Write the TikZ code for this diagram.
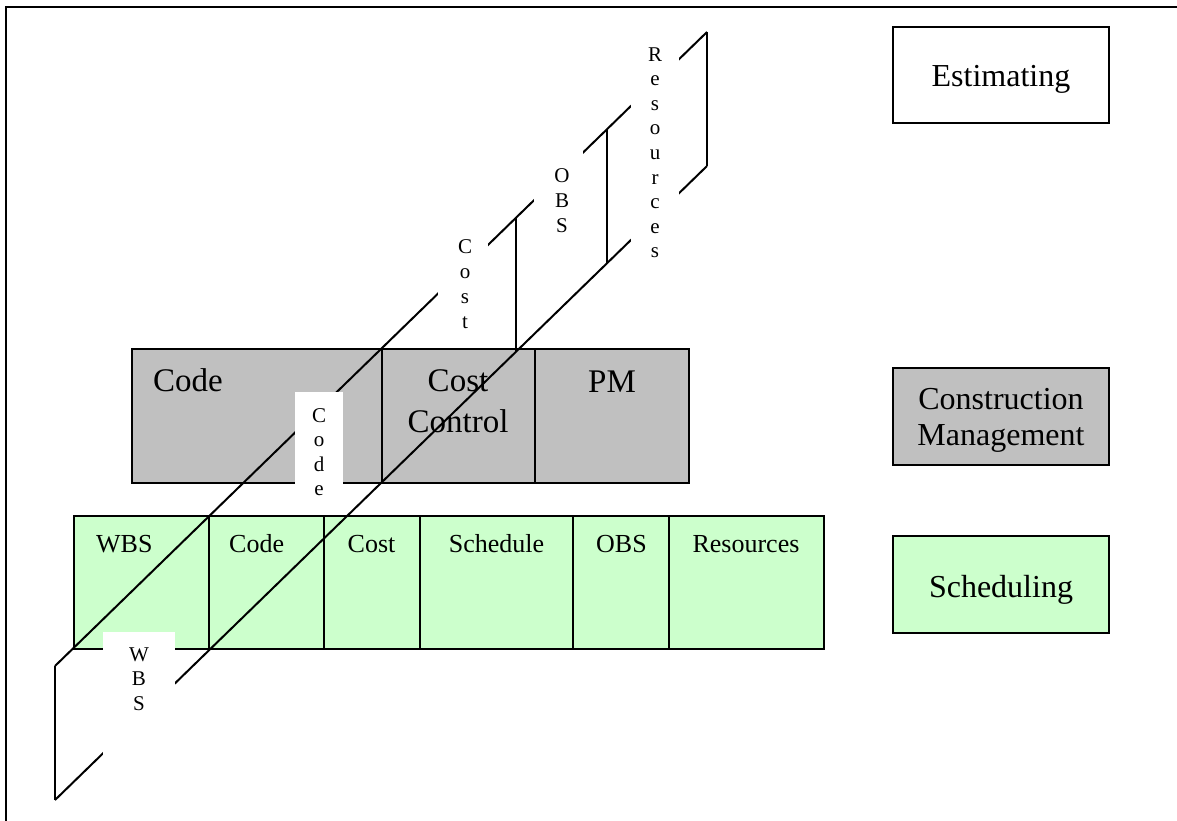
\documentclass[tikz,border=0pt]{standalone}
\usepackage{fontspec}
\setmainfont{Liberation Serif}
\usetikzlibrary{calc}
\definecolor{cmgray}{HTML}{C0C0C0}
\definecolor{schgreen}{HTML}{CCFFCC}
\begin{document}
\begin{tikzpicture}[x=1pt,y=-1pt,
  cell/.style={draw=black, line width=2pt, inner sep=0pt, outer sep=0pt, anchor=north west},
  cmcell/.style={cell, fill=cmgray, minimum height=134pt},
  schcell/.style={cell, fill=schgreen, minimum height=133pt},
  keybox/.style={cell, minimum width=216pt},
  plane/.style={line width=2pt},
  gap/.style={fill=white, inner sep=0pt, outer sep=0pt, anchor=north west},
  vletter/.style={anchor=base, inner sep=0pt, font=\fontsize{21}{24}\selectfont},
  cmtext/.style={anchor=base, inner sep=0pt, font=\fontsize{33}{38}\selectfont},
  schtext/.style={anchor=base, inner sep=0pt, font=\fontsize{26}{30}\selectfont},
  keytext/.style={anchor=base, inner sep=0pt, font=\fontsize{32}{36}\selectfont}]
\useasboundingbox (0,0) rectangle (1177,820);

% page frame
\draw[line width=2pt] (6,822) -- (6,7) -- (1179,7);

% construction management row
\node[cmcell, minimum width=250pt] (cmCode) at (132,349) {};
\node[cmcell, minimum width=153pt] (cmCost) at (382,349) {};
\node[cmcell, minimum width=154pt] (cmPM) at (535,349) {};
\node[cmtext, anchor=base west] (cmCodeT) at (153,391) {Code};
\node[cmtext] (cmCostT1) at (458,391) {Cost};
\node[cmtext] (cmCostT2) at (458,432) {Control};
\node[cmtext] (cmPMT) at (612,392) {PM};

% scheduling row
\node[schcell, minimum width=135pt] (sWBS) at (74,516) {};
\node[schcell, minimum width=115pt] (sCode) at (209,516) {};
\node[schcell, minimum width=96pt] (sCost) at (324,516) {};
\node[schcell, minimum width=153pt] (sSched) at (420,516) {};
\node[schcell, minimum width=96pt] (sOBS) at (573,516) {};
\node[schcell, minimum width=155pt] (sRes) at (669,516) {};
\node[schtext, anchor=base west] (sWBST) at (96,552) {WBS};
\node[schtext, anchor=base west] (sCodeT) at (229,552) {Code};
\node[schtext] (sCostT) at (371.5,552) {Cost};
\node[schtext] (sSchedT) at (496.5,552) {Schedule};
\node[schtext] (sOBST) at (621.5,552) {OBS};
\node[schtext] (sResT) at (746,552) {Resources};

% key boxes
\node[keybox, minimum height=96pt] (kEst) at (893,27) {};
\node[keybox, fill=cmgray, minimum height=97pt] (kCM) at (893,368) {};
\node[keybox, fill=schgreen, minimum height=97pt] (kSch) at (893,536) {};
\node[keytext] (kEstT) at (1001,86) {Estimating};
\node[keytext] (kCMT1) at (1001,409) {Construction};
\node[keytext] (kCMT2) at (1001,445) {Management};
\node[keytext] (kSchT) at (1001,597) {Scheduling};

% planes running back from WBS to Resources
\coordinate (wbsTop) at (55,666);
\coordinate (wbsBot) at (55,800);
\coordinate (resTop) at (707,32);
\coordinate (resBot) at (707,166);
\coordinate (costTop) at ($(wbsTop)!0.7071!(resTop)$);
\coordinate (costBot) at ($(wbsBot)!0.7071!(resBot)$);
\coordinate (obsTop) at ($(wbsTop)!0.8466!(resTop)$);
\coordinate (obsBot) at ($(wbsBot)!0.8466!(resBot)$);
\draw[plane] (wbsTop) -- (resTop);
\draw[plane] (wbsBot) -- (resBot);
\draw[plane] (wbsTop) -- (wbsBot);
\draw[plane] (resTop) -- (resBot);
\draw[plane] (costTop) -- (costBot);
\draw[plane] (obsTop) -- (obsBot);

% plane labels on white panels
\node[gap, minimum width=72pt, minimum height=125pt] (wbsPanel) at (103,632) {};
\node[gap, minimum width=48pt, minimum height=118pt] (codePanel) at (295,392) {};
\node[gap, minimum width=50pt, minimum height=114pt] (costPanel) at (438,226) {};
\node[gap, minimum width=49pt, minimum height=95pt] (obsPanel) at (534,150) {};
\node[gap, minimum width=48pt, minimum height=233pt] (resPanel) at (631,35) {};

\foreach \ch [count=\i from 0] in {W,B,S}
  \node[vletter] (wbsL\i) at (139,{661+24.6*\i}) {\ch};
\foreach \ch [count=\i from 0] in {C,o,d,e}
  \node[vletter] (codeL\i) at (319,{422+24.6*\i}) {\ch};
\foreach \ch [count=\i from 0] in {C,o,s,t}
  \node[vletter] (costL\i) at (465,{253+25*\i}) {\ch};
\foreach \ch [count=\i from 0] in {O,B,S}
  \node[vletter] (obsL\i) at (562,{182+25*\i}) {\ch};
\foreach \ch [count=\i from 0] in {R,e,s,o,u,r,c,e,s}
  \node[vletter] (resL\i) at (655,{61+24.6*\i}) {\ch};
\end{tikzpicture}
\end{document}
